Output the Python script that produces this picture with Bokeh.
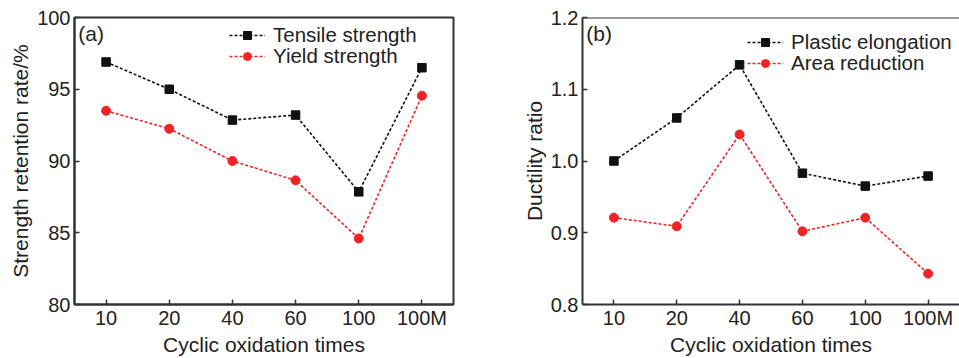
from bokeh.plotting import figure
from bokeh.models import (Range1d, FactorRange, FixedTicker, Legend, LegendItem,
                          Label, Span, NumeralTickFormatter)
from bokeh.layouts import row
from bokeh.embed import file_html
from bokeh.resources import INLINE

cycles = ["10", "20", "40", "60", "100", "100M"]
tensile = [96.9, 95.0, 92.85, 93.2, 87.85, 96.5]
yieldv = [93.5, 92.25, 90.0, 88.65, 84.6, 94.55]
plastic = [1.0, 1.06, 1.134, 0.983, 0.965, 0.979]
area = [0.921, 0.909, 1.037, 0.902, 0.921, 0.843]

FONT = "Liberation Sans"
FS_TICK = "20px"
FS = "21px"
FS_LEG = "20.5px"
TXT = "#222222"
FRAME = "#333333"
BLACK = "#111111"
RED = "#ee2424"


def style(p, ylabel):
    for ax in (p.xaxis[0], p.yaxis[0]):
        ax.axis_line_color = FRAME
        ax.axis_line_width = 2
        ax.major_tick_line_color = FRAME
        ax.major_tick_line_width = 1.5
        ax.major_tick_in = 5
        ax.major_tick_out = 0
        ax.minor_tick_line_color = None
        ax.major_label_text_font = FONT
        ax.major_label_text_font_size = FS_TICK
        ax.major_label_text_color = TXT
        ax.axis_label_text_font = FONT
        ax.axis_label_text_font_size = FS
        ax.axis_label_text_font_style = "normal"
        ax.axis_label_text_color = TXT
    p.xaxis[0].axis_label = "Cyclic oxidation times"
    p.xaxis[0].major_label_standoff = 2
    p.xaxis[0].axis_label_standoff = 1
    p.yaxis[0].axis_label = ylabel
    p.yaxis[0].major_label_standoff = 4
    p.yaxis[0].axis_label_standoff = 2
    p.grid.visible = False
    p.background_fill_color = "white"
    p.border_fill_color = "white"


def one_legend(p, label, renderers, loc):
    leg = Legend(items=[LegendItem(label=label, renderers=renderers)],
                 location=loc, orientation="vertical",
                 glyph_width=36, glyph_height=20, label_height=20,
                 label_standoff=8, spacing=0, padding=0, margin=0,
                 label_text_font=FONT, label_text_font_size=FS_LEG,
                 label_text_color=TXT,
                 background_fill_alpha=0, border_line_color=None)
    p.add_layout(leg)


def series(p, y1, y2, lab1, lab2, loc1, loc2):
    l1 = p.line(cycles, y1, line_color=BLACK, line_width=1.6, line_dash="3 2")
    m1 = p.scatter(cycles, y1, marker="square", size=8.5, fill_color=BLACK, line_color=BLACK)
    l2 = p.line(cycles, y2, line_color=RED, line_width=1.6, line_dash="3 2")
    m2 = p.scatter(cycles, y2, marker="circle", size=9, fill_color=RED, line_color=RED)
    one_legend(p, lab1, [l1, m1], loc1)
    one_legend(p, lab2, [l2, m2], loc2)


p1 = figure(width=490, height=358, x_range=FactorRange(*cycles),
            y_range=Range1d(80, 100), output_backend="svg", toolbar_location=None,
            min_border_left=74, min_border_right=37, min_border_top=17,
            min_border_bottom=52)
p1.outline_line_color = FRAME
p1.outline_line_width = 2
style(p1, "Strength retention rate/%")
p1.yaxis[0].ticker = FixedTicker(ticks=[80, 85, 90, 95, 100])
series(p1, tensile, yieldv, "Tensile strength", "Yield strength", (155, 257), (155, 236))
p1.add_layout(Label(x=0.06, y=98.9, text="(a)", text_font=FONT, text_font_size=FS,
                    text_color=TXT, text_baseline="middle"))

p2 = figure(width=469, height=358, x_range=FactorRange(*cycles),
            y_range=Range1d(0.8, 1.2), output_backend="svg", toolbar_location=None,
            min_border_left=92, min_border_right=0, min_border_top=17,
            min_border_bottom=52)
p2.outline_line_color = None
style(p2, "Ductility ratio")
p2.yaxis[0].ticker = FixedTicker(ticks=[0.8, 0.9, 1.0, 1.1, 1.2])
p2.yaxis[0].formatter = NumeralTickFormatter(format="0.0")
p2.add_layout(Span(location=1.2, dimension="width", line_color=FRAME, line_width=2))
series(p2, plastic, area, "Plastic elongation", "Area reduction", (165, 250), (165, 229))
p2.add_layout(Label(x=0.06, y=1.178, text="(b)", text_font=FONT, text_font_size=FS,
                    text_color=TXT, text_baseline="middle"))

layout = row(p1, p2, spacing=0)
open("out.html", "w").write(file_html(layout, INLINE))
